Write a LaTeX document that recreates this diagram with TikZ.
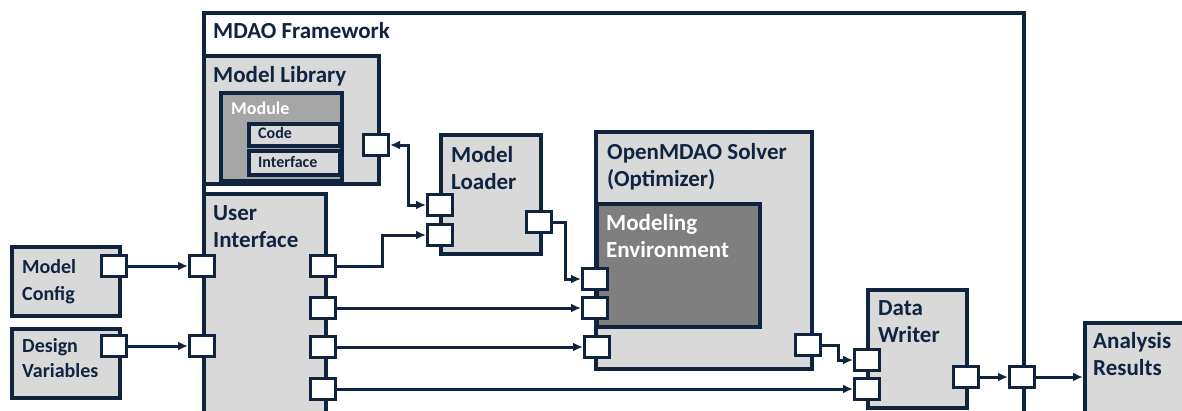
\documentclass[tikz,border=0pt]{standalone}
\usepackage{fontspec}
\setmainfont{Carlito}
\usetikzlibrary{arrows.meta,calc}
\definecolor{navy}{RGB}{16,36,64}
\definecolor{ltgray}{RGB}{217,217,217}
\definecolor{midgray}{RGB}{166,166,166}
\definecolor{dkgray}{RGB}{127,127,127}

\begin{document}
\begin{tikzpicture}[x=1pt,y=-1pt,>={Latex[length=10pt,width=9pt]}]
      \tikzset{
	  box/.style={draw=navy, line width=3.5pt, fill=ltgray, anchor=north west, inner sep=0pt},
	  port/.style={draw=navy, line width=3pt, fill=white, inner sep=0pt, minimum width=25pt, minimum height=21pt},
	  lbl/.style={anchor=base west, align=left, inner sep=0pt, text=navy, font=\bfseries\fontsize{23}{27}\selectfont},
	  wire/.style={draw=navy, line width=3pt},
      }
      \useasboundingbox (0,0) rectangle (1182,410);
      \clip (0,0) rectangle (1182,410);

      % boxes (two-line labels sit on their last baseline)
      \node (fw) at (202,11) [box, fill=white, minimum width=820, minimum height=460] {};
      \node (fwT) at ([shift={(11,27)}]fw.north west) [lbl] {MDAO Framework};

      \node (lib) at (202,54) [box, minimum width=175, minimum height=128] {};
      \node (libT) at ([shift={(11,28)}]lib.north west) [lbl] {Model Library};
      \node (mod) at (219,91) [box, fill=midgray, minimum width=121, minimum height=88] {};
      \node (modT) at ([shift={(12,23)}]mod.north west) [lbl, text=white, font=\bfseries\fontsize{18}{22}\selectfont] {Module};
      \node (code) at (247,122) [box, minimum width=91, minimum height=22] {};
      \node (codeT) at ([shift={(11,16)}]code.north west) [lbl, font=\bfseries\fontsize{16}{18}\selectfont] {Code};
      \node (intf) at (247,149) [box, minimum width=91, minimum height=24] {};
      \node (intfT) at ([shift={(11,18)}]intf.north west) [lbl, font=\bfseries\fontsize{16}{18}\selectfont] {Interface};

      \node (ui) at (202,192) [box, minimum width=122, minimum height=260] {};
      \node (uiT) at ([shift={(11,55)}]ui.north west) [lbl] {User\\Interface};

      \node (cfg) at (10,245) [box, minimum width=108, minimum height=69] {};
      \node (cfgT) at ([shift={(12,55)}]cfg.north west) [lbl, font=\bfseries\fontsize{20}{27}\selectfont] {Model\\Config};
      \node (dv) at (10,327) [box, minimum width=108, minimum height=69] {};
      \node (dvT) at ([shift={(12,50)}]dv.north west) [lbl, font=\bfseries\fontsize{20}{25}\selectfont] {Design\\Variables};

      \node (ldr) at (439,133) [box, minimum width=100, minimum height=119] {};
      \node (ldrT) at ([shift={(12,56)}]ldr.north west) [lbl] {Model\\Loader};

      \node (slv) at (594,130) [box, minimum width=216, minimum height=237] {};
      \node (slvT) at ([shift={(13,56)}]slv.north west) [lbl] {OpenMDAO Solver\\(Optimizer)};
      \node (env) at (595,202) [box, fill=dkgray, minimum width=163, minimum height=123] {};
      \node (envT) at ([shift={(11,55)}]env.north west) [lbl, text=white] {Modeling\\Environment};

      \node (dw) at (866,288) [box, minimum width=99, minimum height=118] {};
      \node (dwT) at ([shift={(12,54)}]dw.north west) [lbl] {Data\\Writer};

      \node (ana) at (1083,321) [box, minimum width=150, minimum height=150] {};
      \node (anaT) at ([shift={(10,54)}]ana.north west) [lbl] {Analysis\\Results};

      % ports
      \node (cfgP) at (114,266) [port] {};
      \node (dvP) at (114,346) [port] {};
      \node (uiL1) at (202,266) [port] {};
      \node (uiL2) at (202,346) [port] {};
      \node (uiR1) at (323,266) [port] {};
      \node (uiR2) at (323,308) [port] {};
      \node (uiR3) at (323,347) [port] {};
      \node (uiR4) at (323,389) [port] {};
      \node (libP) at (376,145) [port] {};
      \node (ldL1) at (440,205) [port] {};
      \node (ldL2) at (440,235) [port] {};
      \node (ldR) at (539,222) [port] {};
      \node (svL1) at (595,279) [port] {};
      \node (svL2) at (595,308) [port] {};
      \node (svL3) at (597,347) [port] {};
      \node (svR) at (808,345) [port] {};
      \node (dwL1) at (867,360) [port] {};
      \node (dwL2) at (867,389) [port] {};
      \node (dwR) at (966,377) [port] {};
      \node (fwP) at (1022,377) [port] {};

      % connectors
      \draw [wire,->] (cfgP) -- (uiL1);
      \draw [wire,->] (dvP) -- (uiL2);
      \draw [wire,<->] (libP) -| ([xshift=-18pt]ldL1.west) -- (ldL1);
      \draw [wire,->] (uiR1) -| ([xshift=-44pt]ldL2.west) -- (ldL2);
      \draw [wire,->] (ldR) -| ([xshift=-16pt]svL1.west) -- (svL1);
      \draw [wire,->] (uiR2) -- (svL2);
      \draw [wire,->] (uiR3) -- (svL3);
      \draw [wire,->] (uiR4) -- (dwL2);
      \draw [wire,->] (svR) -| ([xshift=-15pt]dwL1.west) -- (dwL1);
      \draw [wire,->] (dwR) -- (fwP);
      \draw [wire,->] (fwP) -- (fwP -| ana.west);
\end{tikzpicture}
\end{document}
